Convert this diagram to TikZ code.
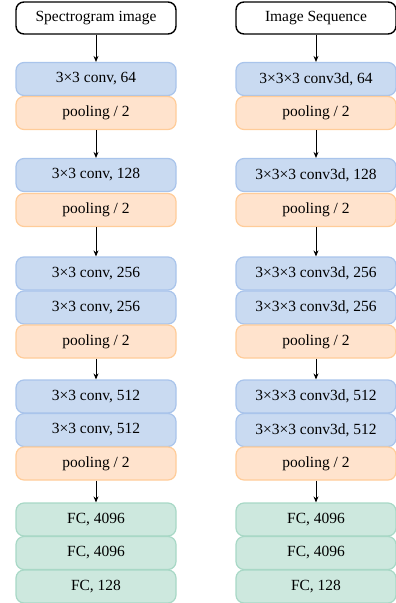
\documentclass[tikz,border=0pt]{standalone}
\usepackage{fontspec}
\setmainfont{Liberation Serif}
\usetikzlibrary{arrows.meta}
\definecolor{bluefill}{HTML}{C9DAF1}
\definecolor{blueline}{HTML}{A9C4EB}
\definecolor{orfill}{HTML}{FFE3CD}
\definecolor{orline}{HTML}{FFCC99}
\definecolor{grfill}{HTML}{CDE8DE}
\definecolor{grline}{HTML}{A8D8C6}
\tikzset{
  base/.style={rounded corners=8pt, minimum width=160pt, minimum height=33pt, inner sep=0pt, font=\fontsize{15.5}{18}\selectfont, line width=1.2pt},
  inbox/.style={base, draw=black, fill=white, line width=1.4pt, minimum height=32pt},
  convbox/.style={base, draw=blueline, fill=bluefill},
  poolbox/.style={base, draw=orline, fill=orfill},
  fcbox/.style={base, draw=grline, fill=grfill},
  arr/.style={-{Stealth[length=6pt,width=5pt]}, line width=0.8pt, black}
}
\begin{document}
\begin{tikzpicture}[x=1pt,y=-1pt]
\useasboundingbox (0,0) rectangle (396,603);
% left column
\node[inbox]   (Lin) at (96,18)    {Spectrogram image};
\node[convbox] (L1)  at (96,79)    {3×3 conv, 64};
\node[poolbox] (LP1) at (96,113)   {pooling / 2};
\node[convbox] (L2)  at (96,175)   {3×3 conv, 128};
\node[poolbox] (LP2) at (96,210)   {pooling / 2};
\node[convbox] (L3a) at (96,273.5) {3×3 conv, 256};
\node[convbox] (L3b) at (96,307.5) {3×3 conv, 256};
\node[poolbox] (LP3) at (96,341.5) {pooling / 2};
\node[convbox] (L4a) at (96,396.5) {3×3 conv, 512};
\node[convbox] (L4b) at (96,430)   {3×3 conv, 512};
\node[poolbox] (LP4) at (96,463.5) {pooling / 2};
\node[fcbox]   (LF1) at (96,519.5) {FC, 4096};
\node[fcbox]   (LF2) at (96,553)   {FC, 4096};
\node[fcbox]   (LF3) at (96,586.5) {FC, 128};
% right column
\node[inbox]   (Rin) at (316,18)    {Image Sequence};
\node[convbox] (R1)  at (316,79)    {3×3×3 conv3d, 64};
\node[poolbox] (RP1) at (316,113)   {pooling / 2};
\node[convbox] (R2)  at (316,175)   {3×3×3 conv3d, 128};
\node[poolbox] (RP2) at (316,210)   {pooling / 2};
\node[convbox] (R3a) at (316,273.5) {3×3×3 conv3d, 256};
\node[convbox] (R3b) at (316,307.5) {3×3×3 conv3d, 256};
\node[poolbox] (RP3) at (316,341.5) {pooling / 2};
\node[convbox] (R4a) at (316,396.5) {3×3×3 conv3d, 512};
\node[convbox] (R4b) at (316,430)   {3×3×3 conv3d, 512};
\node[poolbox] (RP4) at (316,463.5) {pooling / 2};
\node[fcbox]   (RF1) at (316,519.5) {FC, 4096};
\node[fcbox]   (RF2) at (316,553)   {FC, 4096};
\node[fcbox]   (RF3) at (316,586.5) {FC, 128};
% arrows
\draw[arr] (Lin) -- (L1);
\draw[arr] (LP1) -- (L2);
\draw[arr] (LP2) -- (L3a);
\draw[arr] (LP3) -- (L4a);
\draw[arr] (LP4) -- (LF1);
\draw[arr] (Rin) -- (R1);
\draw[arr] (RP1) -- (R2);
\draw[arr] (RP2) -- (R3a);
\draw[arr] (RP3) -- (R4a);
\draw[arr] (RP4) -- (RF1);
\end{tikzpicture}
\end{document}
